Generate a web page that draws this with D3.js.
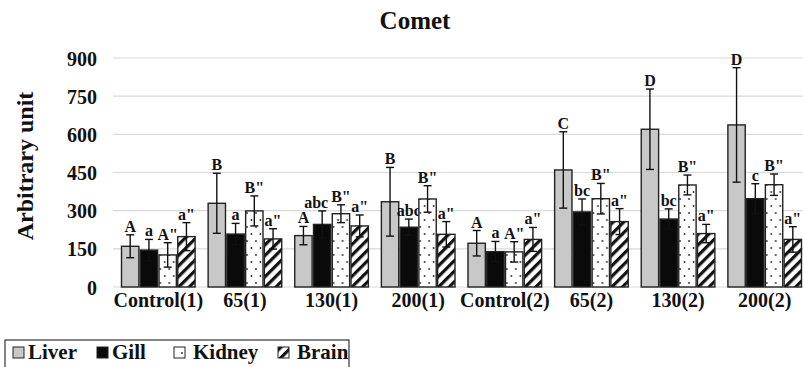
<!DOCTYPE html>
<html lang="en">
<head>
<meta charset="UTF-8">
<title>Comet</title>
<script src="https://d3js.org/d3.v7.min.js"></script>
<style>
  body { margin: 0; background: #fff; }
  svg { display: block; }
  svg text { font-family: "Liberation Serif", "Times New Roman", serif !important; font-weight: bold; fill: #111; }
</style>
</head>
<body>
<svg width="803" height="367"></svg>
<script>
// groups and series
const groups = ["Control(1)", "65(1)", "130(1)", "200(1)", "Control(2)", "65(2)", "130(2)", "200(2)"];
const tissues = ["Liver", "Gill", "Kidney", "Brain"];
const yTicks = [0, 150, 300, 450, 600, 750, 900];

const liver  = [160, 329, 202, 335, 172, 460, 620, 637];
const gill   = [145, 208, 246, 235, 139, 295, 267, 347];
const kidney = [126, 299, 288, 346, 138, 347, 401, 402];
const brain  = [198, 189, 240, 207, 187, 257, 210, 187];

const liverErr  = [45, 118, 36, 135, 50, 150, 158, 225];
const gillErr   = [42, 42, 53, 32, 40, 51, 40, 59];
const kidneyErr = [48, 59, 35, 52, 40, 60, 39, 42];
const brainErr  = [55, 40, 43, 50, 47, 51, 36, 50];

const liverLbl  = ["A", "B", "A", "B", "A", "C", "D", "D"];
const gillLbl   = ["a", "a", "abc", "abc", "a", "bc", "bc", "c"];
const kidneyLbl = ["A\"", "B\"", "B\"", "B\"", "A\"", "B\"", "B\"", "B\""];
const brainLbl  = ["a\"", "a\"", "a\"", "a\"", "a\"", "a\"", "a\"", "a\""];

const values = [liver, gill, kidney, brain];
const errors = [liverErr, gillErr, kidneyErr, brainErr];
const labels = [liverLbl, gillLbl, kidneyLbl, brainLbl];

const svg = d3.select("svg");

// patterns
const defs = svg.append("defs");
const dots = defs.append("pattern").attr("id", "dots")
  .attr("patternUnits", "userSpaceOnUse").attr("width", 9).attr("height", 14);
dots.append("rect").attr("width", 9).attr("height", 14).attr("fill", "#fff");
dots.append("circle").attr("cx", 2).attr("cy", 3).attr("r", 0.9).attr("fill", "#222");
dots.append("circle").attr("cx", 6.5).attr("cy", 10).attr("r", 0.9).attr("fill", "#222");

const hatch = defs.append("pattern").attr("id", "hatch")
  .attr("patternUnits", "userSpaceOnUse").attr("width", 7.5).attr("height", 7.5)
  .attr("patternTransform", "rotate(45)");
hatch.append("rect").attr("width", 7.5).attr("height", 7.5).attr("fill", "#fff");
hatch.append("rect").attr("x", 0).attr("width", 3.2).attr("height", 7.5).attr("fill", "#111");

const fills = ["#c8c8c8", "#0a0a0a", "url(#dots)", "url(#hatch)"];

const x0 = d3.scaleBand().domain(groups).range([115, 808]).paddingInner(0.134).paddingOuter(0.067);
const x1 = d3.scaleBand().domain(tissues).range([0, x0.bandwidth()]);
const y = d3.scaleLinear().domain([0, 900]).range([287, 58]);

// title
svg.append("text").attr("x", 415).attr("y", 29).attr("text-anchor", "middle")
  .style("font-size", "25px").text("Comet");

// grid
svg.append("g").selectAll("line").data(yTicks).join("line")
  .attr("x1", 113).attr("x2", 803)
  .attr("y1", d => y(d)).attr("y2", d => y(d))
  .attr("stroke", "#d9d9d9").attr("stroke-width", 1.2);

// y axis labels
const yAxis = svg.append("g").attr("transform", "translate(101,0)")
  .call(d3.axisLeft(y).tickValues(yTicks).tickSize(0).tickPadding(4));
yAxis.attr("font-family", null).attr("font-size", null);
yAxis.select(".domain").remove();
yAxis.selectAll("text").style("font-size", "20px").attr("dy", "0.35em");

svg.append("text").attr("transform", "translate(33,166) rotate(-90)")
  .attr("text-anchor", "middle").style("font-size", "24px").text("Arbitrary unit");

// x axis labels
const xAxis = svg.append("g").attr("transform", "translate(0,287)")
  .call(d3.axisBottom(x0).tickSize(0).tickPadding(6));
xAxis.attr("font-family", null).attr("font-size", null);
xAxis.select(".domain").remove();
xAxis.selectAll("text").style("font-size", "20px");

// bars
const rows = [];
groups.forEach((g, gi) => tissues.forEach((t, ti) => {
  rows.push({ g, t, ti, v: values[ti][gi], e: errors[ti][gi], l: labels[ti][gi] });
}));

const bars = svg.append("g").selectAll("g").data(rows).join("g")
  .attr("transform", d => `translate(${x0(d.g) + x1(d.t)},0)`);

bars.append("rect")
  .attr("x", 0.7).attr("width", x1.bandwidth() - 1.4)
  .attr("y", d => y(d.v)).attr("height", d => y(0) - y(d.v))
  .attr("fill", d => fills[d.ti])
  .attr("stroke", "#222").attr("stroke-width", 1.4);

const cx = x1.bandwidth() / 2;
bars.append("line").attr("x1", cx).attr("x2", cx)
  .attr("y1", d => y(d.v - d.e)).attr("y2", d => y(d.v + d.e))
  .attr("stroke", "#111").attr("stroke-width", 1.4);
bars.append("line").attr("x1", cx - 4).attr("x2", cx + 4)
  .attr("y1", d => y(d.v + d.e)).attr("y2", d => y(d.v + d.e))
  .attr("stroke", "#111").attr("stroke-width", 1.4);
bars.append("line").attr("x1", cx - 4).attr("x2", cx + 4)
  .attr("y1", d => y(d.v - d.e)).attr("y2", d => y(d.v - d.e))
  .attr("stroke", "#111").attr("stroke-width", 1.4);

// the long gill label in 130(1) sits a little left so it clears B"
bars.append("text")
  .attr("x", d => cx + (d.g === "130(1)" && d.ti === 1 ? -6 : 0))
  .attr("y", d => y(d.v + d.e) - 3)
  .attr("text-anchor", "middle").style("font-size", "16px").text(d => d.l);

// legend
const lg = svg.append("g");
lg.append("rect").attr("x", 5).attr("y", 340).attr("width", 344).attr("height", 32)
  .attr("fill", "#fff").attr("stroke", "#333").attr("stroke-width", 1.2);
const legX = [13, 97, 174, 278];
const legTx = [28, 112, 193, 297];
tissues.forEach((t, i) => {
  lg.append("rect").attr("x", legX[i]).attr("y", 347).attr("width", 11).attr("height", 11)
    .attr("fill", fills[i]).attr("stroke", "#222").attr("stroke-width", 1);
  lg.append("text").attr("x", legTx[i]).attr("y", 359)
    .style("font-size", "21px").text(t);
});
</script>
</body>
</html>
